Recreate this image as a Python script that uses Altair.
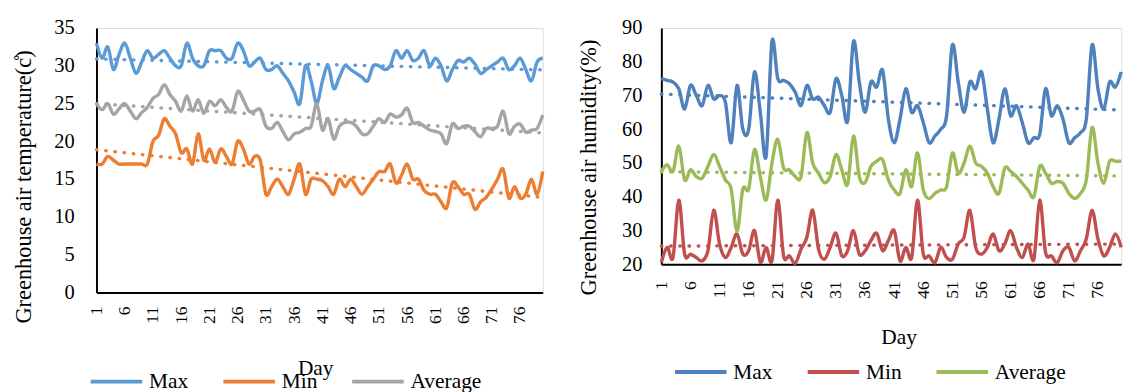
import altair as alt
import pandas as pd

days = list(range(1, 81))
series_names = ["Max", "Min", "Average"]
tick_days = list(range(1, 80, 5))

temp_max = [33, 31, 32.5, 29.5, 31.5, 33, 31, 29, 30.5, 32,
            31, 31.5, 32, 31, 30, 30, 33, 31, 30, 30,
            32, 32, 32, 31, 31, 33, 32, 30, 30.5, 31,
            29.5, 29.5, 30, 29, 28, 26.5, 25, 30, 28, 25,
            28, 30, 27, 28.5, 30, 29.5, 29, 28.5, 28, 30,
            30, 29.5, 30, 32, 31, 32, 30.7, 31, 32, 30,
            31, 30, 28, 29.5, 30.7, 30.5, 31, 30.2, 29, 29.5,
            30, 30.5, 31, 29.5, 30, 31, 29.5, 28, 30.5, 31]
temp_min = [17, 17, 18, 17.5, 17, 17, 17, 17, 17, 17,
            20, 20.8, 23, 22, 21, 18.5, 19, 17, 21, 17.5,
            19, 17.2, 19, 18, 17, 20, 19, 17, 18, 17.5,
            13, 14, 15, 14, 13, 15, 17, 13, 15, 15,
            14.8, 14, 13, 15, 14, 15, 14, 13, 14, 15,
            16, 16, 17, 14.5, 15.5, 17, 15, 15, 13.5, 13,
            13, 12, 11.2, 14.5, 14, 13, 13, 11, 12, 12.6,
            13.7, 15, 16.3, 12.5, 14, 12.5, 13, 15, 13, 16]
temp_avg = [25, 24.2, 25, 23.6, 24.3, 25, 24, 23, 23.8, 24.5,
            25.7, 26.2, 27.5, 26.2, 25.3, 24, 26, 24, 25.5, 23.7,
            25.3, 24.7, 25.5, 24.5, 24, 26.6, 25.5, 24, 24, 24.2,
            22, 21.7, 22.5, 21.3, 20.2, 21, 21.2, 21.7, 22, 25,
            21.5, 23, 20.3, 22, 22.5, 22.5, 22, 21, 21, 22,
            23, 22.5, 23.6, 23.2, 23.5, 24.4, 22.5, 22.5, 22, 21.5,
            21.3, 21, 19.7, 22.3, 21.7, 22, 22, 21.3, 20.6, 21.7,
            21.7, 22, 24, 21, 22, 22.3, 21.2, 21.5, 21.7, 23.5]

hum_max = [75, 74.5, 74, 72, 66, 73, 70, 67, 73, 69,
           70, 68, 56, 73, 60, 60, 77, 65, 52, 86,
           75, 74.5, 73.5, 71, 67, 73, 69, 69.5, 67, 65,
           75, 70, 62.5, 86, 74, 65, 74, 72.5, 77.5, 63,
           56, 63, 72, 65, 67, 62, 56, 58, 60, 64,
           85, 74, 65, 74, 72, 77, 66, 56, 63, 72,
           64, 67, 62, 56, 57.5, 58.5, 72, 64, 67, 63,
           56, 57.5, 59, 63, 85, 72, 66, 74, 72.5, 77]
hum_min = [20.5, 25, 22, 39, 23, 23, 22, 21, 24, 36,
           26, 22, 25, 29, 23, 24, 30, 20.6, 25, 21,
           39, 22.5, 22.5, 20.3, 24.5, 28, 36, 24.5, 21.5, 25,
           29.2, 22.5, 24, 30, 23, 24, 27, 29.2, 24, 27,
           30, 21, 25, 22, 39, 23, 22.5, 20.5, 25, 22,
           21.5, 26, 28, 36, 25, 23, 25, 29, 24, 26,
           30, 25, 22, 26, 21.5, 39, 23.5, 22.5, 20.5, 24,
           25, 21, 24, 27.5, 36, 27.5, 22.5, 25, 29, 25]
hum_avg = [47.5, 49.5, 47.5, 55, 45, 48, 46, 45.5, 49, 52.5,
           49, 45, 42.3, 29.7, 42.3, 42.3, 54, 46, 39, 50,
           57, 48.5, 48, 46, 46, 59, 50, 47, 44.2, 46,
           52.5, 48, 43.7, 58, 46, 44.2, 49, 50.5, 51, 45,
           42, 41, 48, 43, 53, 42, 39.5, 41, 42, 43,
           53, 47, 50, 55, 50, 49, 47, 43, 41, 48.5,
           47.5, 46, 44, 42, 40, 49, 47, 44, 44.5, 44,
           41, 39.5, 41, 45, 60.5, 50, 44, 50.5, 50.5, 50.5]

temp_colors = ["#5B9BD5", "#ED7D31", "#A5A5A5"]
hum_colors = ["#4F81BD", "#C0504D", "#9BBB59"]

FONT = "Liberation Serif, Times New Roman, DejaVu Serif, serif"


def long_frame(mx, mn, av):
    rows = []
    for name, vals in zip(series_names, [mx, mn, av]):
        for d, v in zip(days, vals):
            rows.append({"Day": d, "Value": v, "Series": name})
    return pd.DataFrame(rows)


def panel(df, colors, ydomain, yvalues, ytitle, width, height,
          ytitle_x, ytitle_y, ylabel_pad, xlabel_pad, day_x, day_y,
          leg_x, leg_y):
    x = alt.X("Day:Q",
              scale=alt.Scale(domain=[1, 80], nice=False, zero=False),
              axis=alt.Axis(values=tick_days, labelAngle=270, grid=False, ticks=False,
                            domainColor="#000000", domainWidth=2,
                            labelFont=FONT, labelFontSize=18, labelColor="#000000",
                            labelPadding=xlabel_pad, labelFlush=False,
                            title="Day", titleFont=FONT, titleFontSize=22,
                            titleFontWeight="normal", titleColor="#000000",
                            titleX=day_x, titleY=day_y, titleBaseline="middle",
                            titleAlign="center"))
    y = alt.Y("Value:Q",
              scale=alt.Scale(domain=ydomain, nice=False, zero=False),
              axis=alt.Axis(values=yvalues, grid=False, ticks=False,
                            domainColor="#000000", domainWidth=2,
                            labelFont=FONT, labelFontSize=21, labelColor="#000000",
                            labelPadding=ylabel_pad,
                            title=ytitle, titleFont=FONT, titleFontSize=23,
                            titleFontWeight="normal", titleColor="#000000",
                            titleX=ytitle_x, titleY=ytitle_y, titleAngle=270,
                            titleBaseline="middle", titleAlign="center"))
    cscale = alt.Scale(domain=series_names, range=colors)
    legend = alt.Legend(title=None, orient="none", legendX=leg_x, legendY=leg_y,
                        direction="horizontal", columns=3,
                        symbolType="stroke", symbolSize=2809, symbolStrokeWidth=4,
                        labelFont=FONT, labelFontSize=22, labelColor="#000000",
                        labelOffset=5, columnPadding=27.5, padding=0)
    lines = alt.Chart(df).mark_line(interpolate="cardinal", strokeWidth=3.5).encode(
        x=x, y=y,
        color=alt.Color("Series:N", scale=cscale, legend=legend),
        detail="Series:N",
    )
    trend = alt.Chart(df).transform_regression(
        "Day", "Value", groupby=["Series"]
    ).mark_line(strokeDash=[0.5, 9], strokeCap="round", strokeWidth=3.5).encode(
        x=x, y=y,
        color=alt.Color("Series:N", scale=cscale, legend=None),
        detail="Series:N",
    )
    return alt.layer(lines, trend).properties(width=width, height=height)


left = panel(long_frame(temp_max, temp_min, temp_avg), temp_colors, [0, 35],
             list(range(0, 36, 5)), "Greenhouse air temperature(c\u030a)",
             459, 272, -75, 163, 23, 14, 225, 77, -8, 335)
right = panel(long_frame(hum_max, hum_min, hum_avg), hum_colors, [20, 90],
              list(range(20, 91, 10)), "Greenhouse air humidity(%)",
              473, 243, -75, 143, 20, 17, 244, 74, 12, 325)

chart = alt.hconcat(left, right, spacing=27).resolve_scale(
    color="independent"
).properties(
    padding={"left": 4, "top": 3, "right": 0, "bottom": 0}
).configure_view(stroke=None).configure(background="white")

chart.save("out.html", embed_options={"renderer": "svg", "actions": False})
